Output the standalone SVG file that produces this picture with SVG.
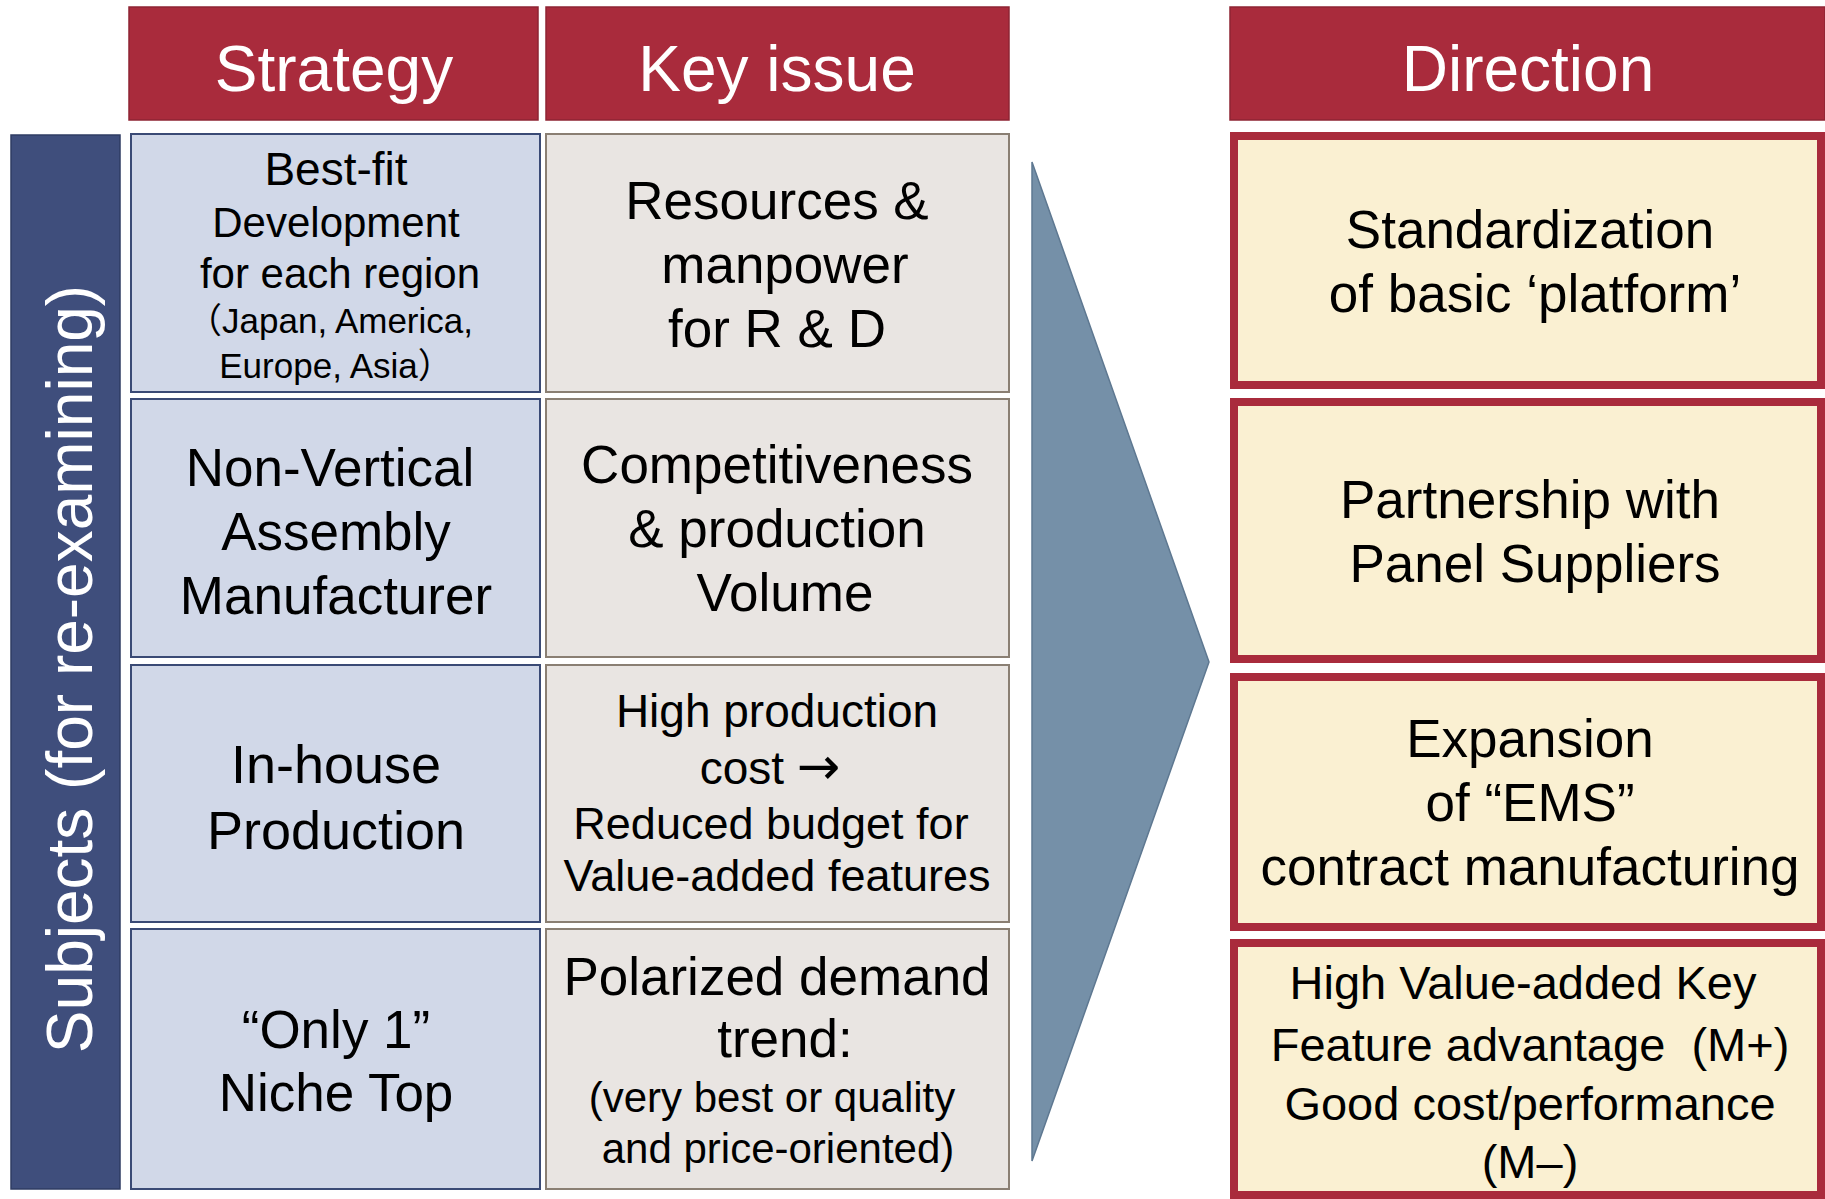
<svg xmlns="http://www.w3.org/2000/svg" width="1825" height="1199" viewBox="0 0 1825 1199">
<style>
text{font-family:"Liberation Sans","Noto Sans CJK JP",Arial,sans-serif;text-anchor:middle;fill:#000}
.hdr rect{fill:#A92B3C;stroke:#8E2433;stroke-width:1.5}
.hdr text{fill:#fff;font-size:64px}
.strat rect{fill:#D1D8E8;stroke:#3A4A75;stroke-width:2}
.issue rect{fill:#E9E5E2;stroke:#8A7F73;stroke-width:2}
.dir rect{fill:#FAF0D2;stroke:#A92B3C;stroke-width:8}
.big{font-size:53px}
.arr{font-family:"DejaVu Sans",sans-serif;font-size:52px}
</style>
<rect width="1825" height="1199" fill="#fff"/>
<g id="hdr-strategy" class="hdr"><rect x="129" y="7" width="409" height="113"/><text x="334" y="91">Strategy</text></g>
<g id="hdr-keyissue" class="hdr"><rect x="546" y="7" width="463" height="113"/><text x="777" y="91">Key issue</text></g>
<g id="hdr-direction" class="hdr"><rect x="1230" y="7" width="595" height="113"/><text x="1528" y="91">Direction</text></g>

<g id="subjects-bar"><rect x="11" y="135" width="109" height="1054" fill="#3F4E7C" stroke="#2F3C63" stroke-width="1.5"/><text transform="translate(92,669) rotate(-90)" style="fill:#fff;font-size:64px">Subjects (for re-examining)</text></g>

<g id="strat1" class="strat"><rect x="131" y="134" width="409" height="258"/>
<text x="336" y="185" style="font-size:46px">Best-fit</text>
<text x="336" y="237" style="font-size:42px">Development</text>
<text x="340" y="288" style="font-size:42px">for each region</text>
<text x="330" y="333" style="font-size:35px">（Japan, America,</text>
<text x="336" y="378" style="font-size:35px">Europe, Asia）</text></g>
<g id="strat2" class="strat"><rect x="131" y="399" width="409" height="258"/>
<text class="big" x="330" y="486">Non-Vertical</text>
<text class="big" x="336" y="550">Assembly</text>
<text class="big" x="336" y="614">Manufacturer</text></g>
<g id="strat3" class="strat"><rect x="131" y="665" width="409" height="257"/>
<text x="336" y="783" style="font-size:54px">In-house</text>
<text x="336" y="849" style="font-size:54px">Production</text></g>
<g id="strat4" class="strat"><rect x="131" y="929" width="409" height="260"/>
<text class="big" x="336" y="1048">“Only 1”</text>
<text class="big" x="336" y="1111">Niche Top</text></g>

<g id="issue1" class="issue"><rect x="546" y="134" width="463" height="258"/>
<text class="big" x="777" y="219">Resources &amp;</text>
<text class="big" x="785" y="283">manpower</text>
<text class="big" x="777" y="347">for R &amp; D</text></g>
<g id="issue2" class="issue"><rect x="546" y="399" width="463" height="258"/>
<text class="big" x="777" y="483">Competitiveness</text>
<text class="big" x="777" y="547">&amp; production</text>
<text class="big" x="785" y="611">Volume</text></g>
<g id="issue3" class="issue"><rect x="546" y="665" width="463" height="257"/>
<text x="777" y="727" style="font-size:46px">High production</text>
<text x="770" y="784" style="font-size:46px">cost <tspan class="arr">→</tspan></text>
<text x="771" y="839" style="font-size:45px">Reduced budget for</text>
<text x="777" y="891" style="font-size:45px">Value-added features</text></g>
<g id="issue4" class="issue"><rect x="546" y="929" width="463" height="260"/>
<text class="big" x="777" y="995">Polarized demand</text>
<text class="big" x="785" y="1057">trend:</text>
<text x="772" y="1112" style="font-size:42px">(very best or quality</text>
<text x="778" y="1163" style="font-size:42px">and price-oriented)</text></g>

<g id="connectors"><polygon points="1032,162 1209,662 1032,1161" fill="#7590A8" stroke="#5E7891" stroke-width="1.5"/></g>

<g id="dir1" class="dir"><rect x="1234" y="136" width="587" height="249"/>
<text class="big" x="1530" y="248">Standardization</text>
<text class="big" x="1535" y="312">of basic ‘platform’</text></g>
<g id="dir2" class="dir"><rect x="1234" y="402" width="587" height="257"/>
<text class="big" x="1530" y="518">Partnership with</text>
<text class="big" x="1535" y="582">Panel Suppliers</text></g>
<g id="dir3" class="dir"><rect x="1234" y="677" width="587" height="250"/>
<text class="big" x="1530" y="757">Expansion</text>
<text class="big" x="1530" y="821">of “EMS”</text>
<text class="big" x="1530" y="885">contract manufacturing</text></g>
<g id="dir4" class="dir"><rect x="1234" y="943" width="587" height="252"/>
<text x="1523" y="999" style="font-size:47px">High Value-added Key</text>
<text x="1530" y="1061" style="font-size:47px;white-space:pre" xml:space="preserve">Feature advantage  (M+)</text>
<text x="1530" y="1120" style="font-size:47px">Good cost/performance</text>
<text x="1530" y="1178" style="font-size:47px">(M–)</text></g>
</svg>
